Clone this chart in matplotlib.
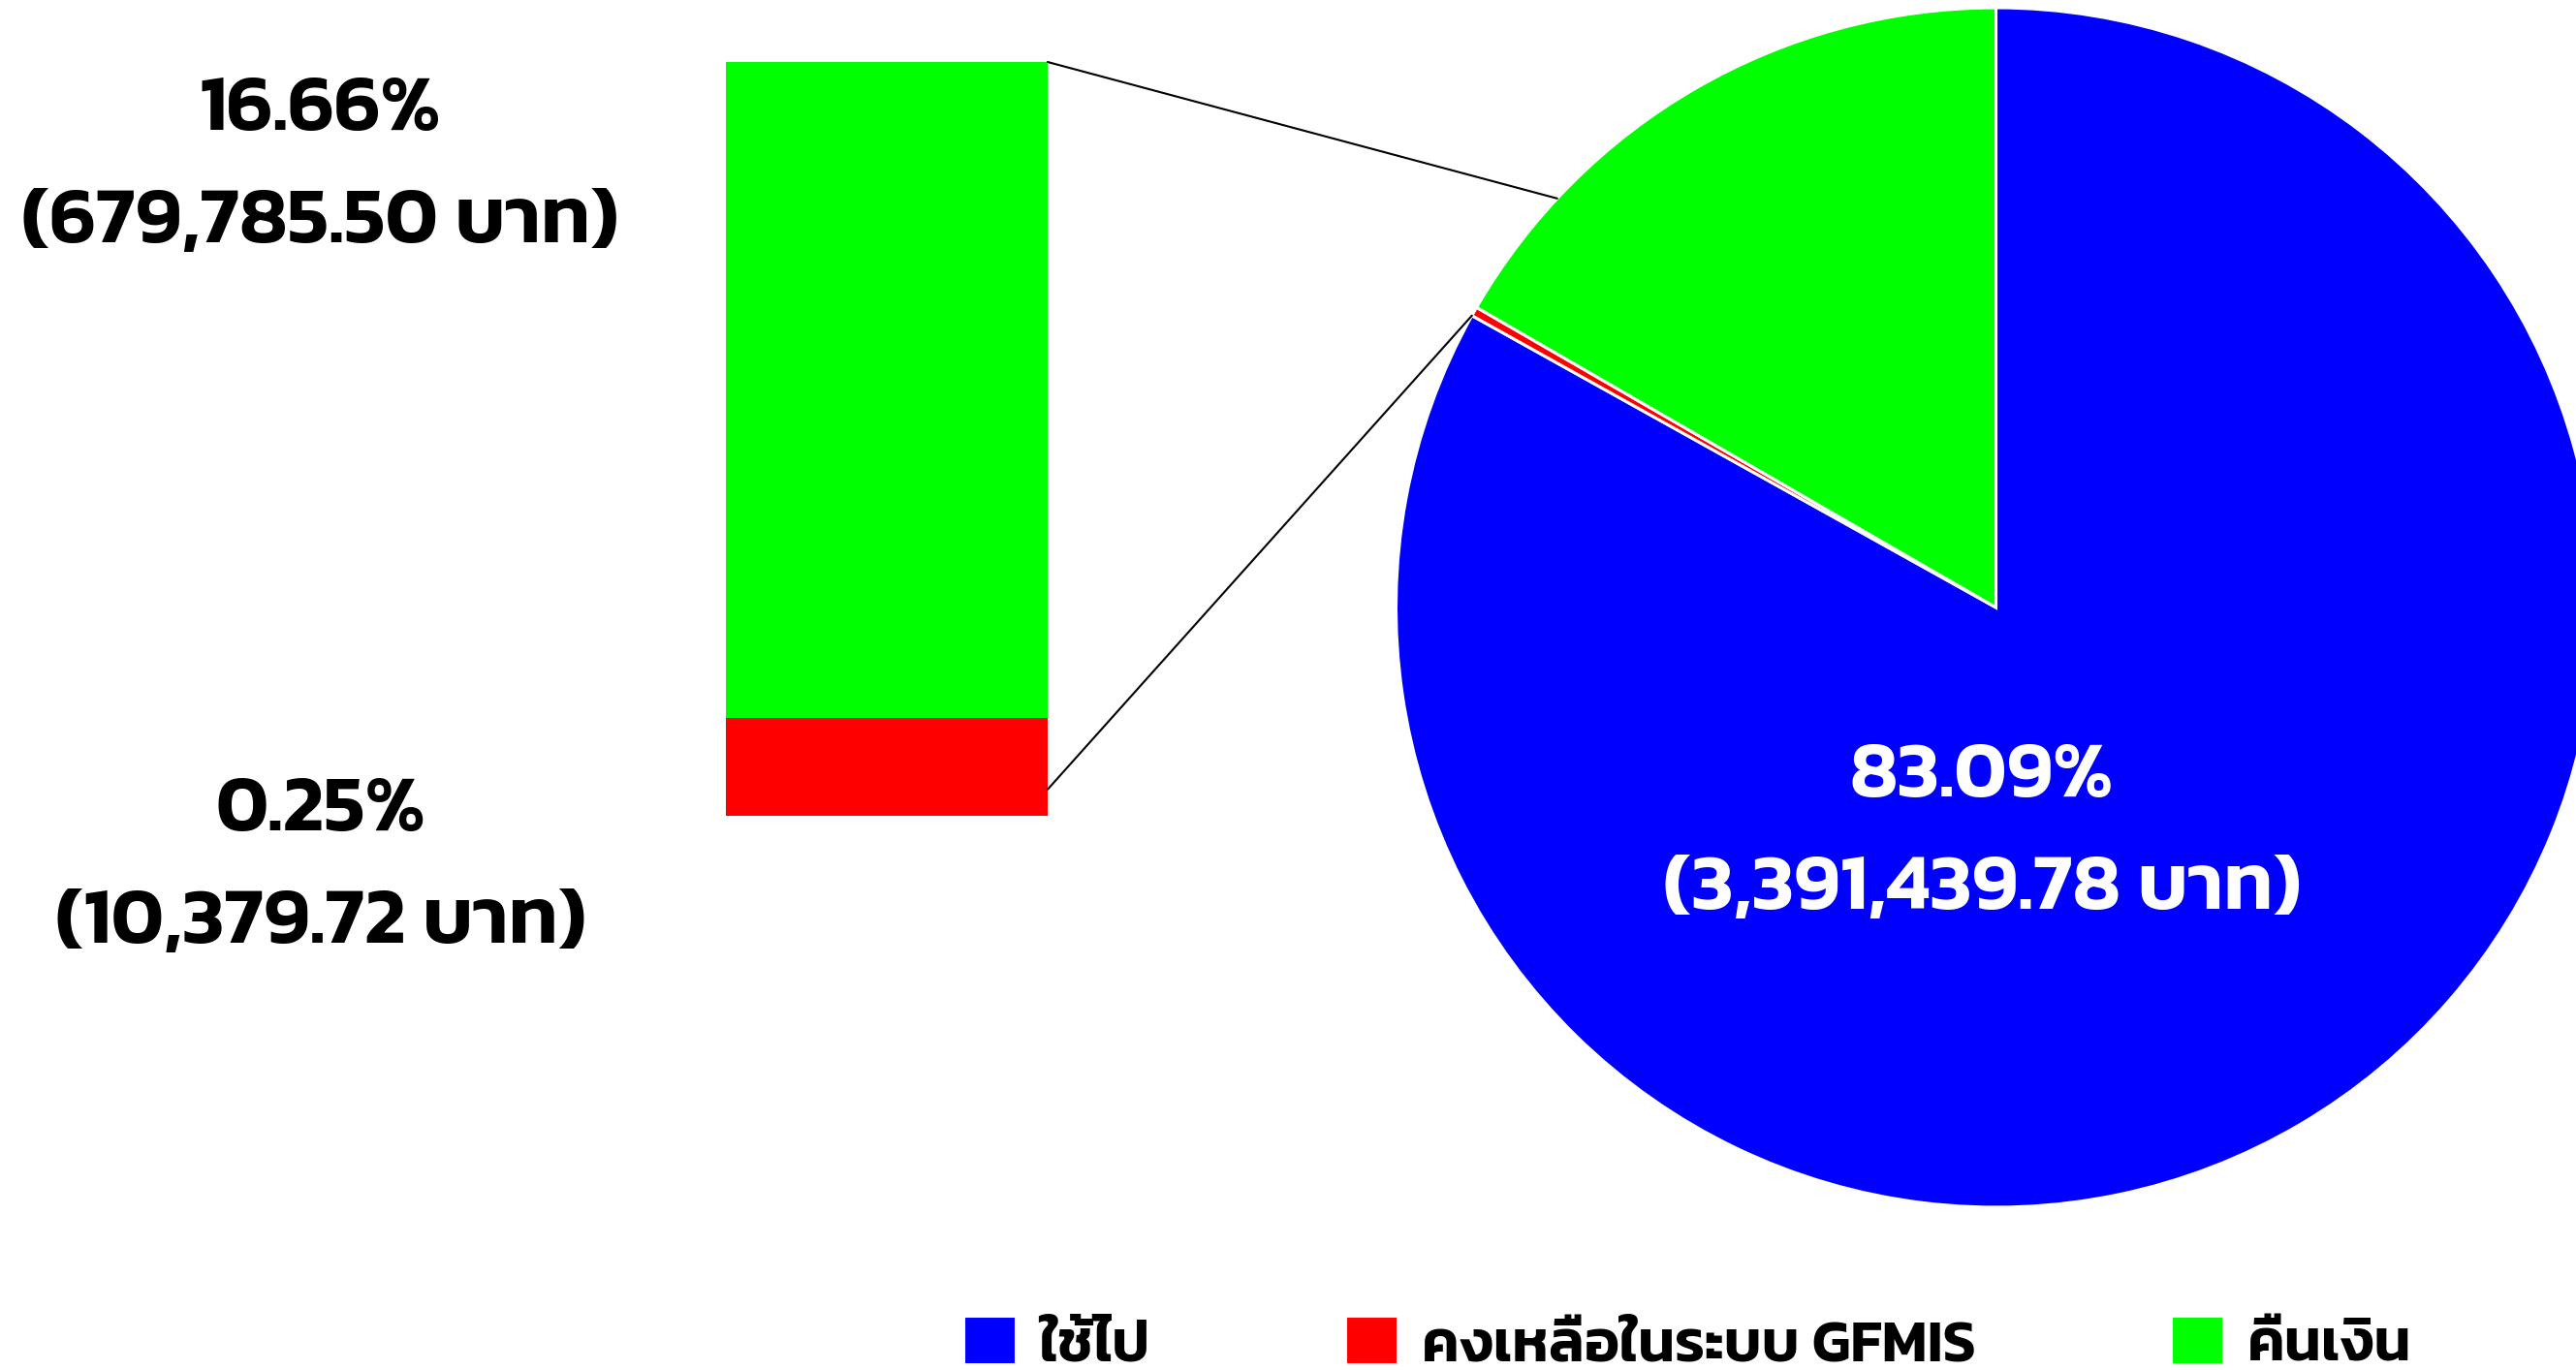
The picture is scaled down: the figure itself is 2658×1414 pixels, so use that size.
import matplotlib
matplotlib.use('Agg')
import matplotlib.pyplot as plt
from matplotlib import font_manager
from matplotlib.patches import ConnectionPatch
import numpy as np

# ---------------- data ----------------
categories = ['ใช้ไป', 'คงเหลือในระบบ GFMIS', 'คืนเงิน']
percentages = [83.09, 0.25, 16.66]
amounts = [3391439.78, 10379.72, 679785.50]
colors = ['#0000FF', '#FF0000', '#00FF00']
# stacked bar (bottom -> top), display heights as drawn in the picture
bar_categories = ['คงเหลือในระบบ GFMIS', 'คืนเงิน']
bar_heights = [13.0, 87.0]
bar_colors = ['#FF0000', '#00FF00']
top_line_angle = 137.0      # where the upper connector meets the pie (deg)
bottom_line_bar_y = 3.5     # where the lower connector leaves the bar

# ---------------- fonts ----------------
available = {f.name for f in font_manager.fontManager.ttflist}
fam = [n for n in ['Kanit', 'Prompt', 'Noto Sans Thai', 'Loma'] if n in available][:1]
plt.rcParams['font.family'] = fam + ['DejaVu Sans']
WEIGHT = 600

W, H = 2658, 1414
fig = plt.figure(figsize=(W / 100, H / 100), dpi=100)

# pie axes: centre (2059.5, 627) px, radius 619 px
r = 619
cx, cy = 2059.5, 627
ax = fig.add_axes([(cx - r) / W, (H - cy - r) / H, 2 * r / W, 2 * r / H])
wedges, _ = ax.pie(percentages, colors=colors, startangle=90, counterclock=False,
                   wedgeprops=dict(edgecolor='white', linewidth=2.2))
ax.set_xlim(-1, 1)
ax.set_ylim(-1, 1)
ax.axis('off')

LS = 1.75
FS = 59
# va='baseline' anchors the baseline of the last line
ax.text((2045 - cx) / r, (cy - 938) / r, f"{percentages[0]:.2f}%\n({amounts[0]:,.2f} บาท)",
        ha='center', va='baseline', color='white', fontsize=FS, fontweight=WEIGHT,
        linespacing=LS, multialignment='center')

# bar axes
bx0, bx1, by0, by1 = 749, 1081, 842, 64
axb = fig.add_axes([bx0 / W, (H - by0) / H, (bx1 - bx0) / W, (by0 - by1) / H])
bottom = 0
for h, c in zip(bar_heights, bar_colors):
    axb.bar(0, h, bottom=bottom, width=1, align='edge', color=c, linewidth=0)
    bottom += h
axb.set_xlim(0, 1)
axb.set_ylim(0, sum(bar_heights))
axb.axis('off')

# connectors
t = np.deg2rad(top_line_angle)
con = ConnectionPatch(xyA=(1, sum(bar_heights)), coordsA=axb.transData,
                      xyB=(np.cos(t), np.sin(t)), coordsB=ax.transData,
                      color='black', lw=1.5)
fig.add_artist(con)
tb = np.deg2rad(wedges[1].theta2)
con = ConnectionPatch(xyA=(1, bottom_line_bar_y), coordsA=axb.transData,
                      xyB=(np.cos(tb), np.sin(tb)), coordsB=ax.transData,
                      color='black', lw=1.5)
fig.add_artist(con)

# side labels
fig.text(330 / W, 1 - 250 / H, f"{percentages[2]:.2f}%\n({amounts[2]:,.2f} บาท)",
         ha='center', va='baseline', fontsize=FS, fontweight=WEIGHT, linespacing=LS,
         multialignment='center')
fig.text(331 / W, 1 - 973 / H, f"{percentages[1]:.2f}%\n({amounts[1]:,.2f} บาท)",
         ha='center', va='baseline', fontsize=FS, fontweight=WEIGHT, linespacing=LS,
         multialignment='center')

# legend
leg = fig.legend(wedges, categories, ncol=3, frameon=False, loc='upper left',
                 bbox_to_anchor=(994 / W, 1 - 1358 / H),
                 prop=dict(size=44, weight=WEIGHT),
                 handlelength=0.884, handleheight=0.884, handletextpad=0.4,
                 columnspacing=3.3, borderpad=0, borderaxespad=0)

fig.savefig('out.png', dpi=100)
